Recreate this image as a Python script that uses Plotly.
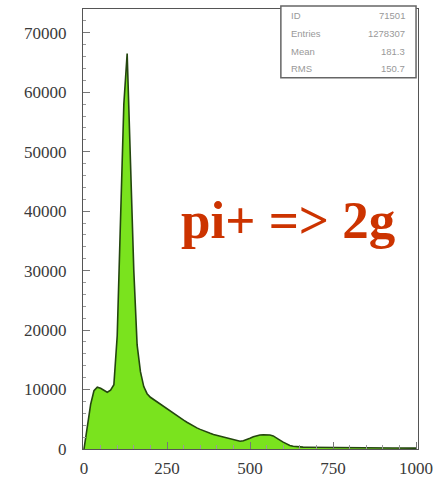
import plotly.graph_objects as go

# Histogram contents sampled every 10 units (bin centres 0, 10, ..., 1000)
bin_width = 10
counts = [
    0, 4000, 7500, 9800, 10400, 10200, 9800, 9550, 9900, 10800,
    19000, 37000, 58000, 66500, 50000, 30000, 17500, 13000, 10500, 9300,
    8700, 8300, 7900, 7500, 7150, 6800, 6400, 6000, 5600, 5200,
    4850, 4500, 4150, 3850, 3550, 3300, 3050, 2850, 2650, 2450,
    2300, 2150, 2000, 1850, 1700, 1500, 1350, 1300, 1400, 1550,
    1800, 2050, 2250, 2350, 2400, 2400, 2350, 2200, 1900, 1500,
    1150, 850, 600, 450, 380, 340, 320, 305, 295, 285,
    275, 265, 258, 250, 244, 238, 232, 226, 220, 215,
    210, 205, 200, 196, 192, 188, 184, 180, 177, 174,
    171, 168, 165, 162, 160, 158, 156, 154, 152, 150, 150,
]
x_ticks = [0, 250, 500, 750, 1000]
y_ticks = [0, 10000, 20000, 30000, 40000, 50000, 60000, 70000]
stat_names = ["ID", "Entries", "Mean", "RMS"]
stat_values = ["71501", "1278307", "181.3", "150.7"]
title_text = "pi+ => 2g"

centers = [i * bin_width for i in range(len(counts))]

W, H = 441, 489
L, R, T, B = 83, 16, 8, 40
pw, ph = W - L - R, H - T - B


def px_x(px):
    return (px - L) / pw


def px_y(py):
    return (H - B - py) / ph


fig = go.Figure()
fig.add_trace(go.Scatter(
    x=centers, y=counts, mode="lines", line_shape="linear",
    line=dict(color="#24460f", width=1.6),
    fill="tozeroy", fillcolor="#7ae31e",
    hoverinfo="skip", showlegend=False,
))

tick_font = dict(family="Liberation Serif, Times New Roman, serif", size=17, color="#3a3a3a")

fig.update_layout(
    width=W, height=H,
    margin=dict(l=L, r=R, t=T, b=B),
    paper_bgcolor="white", plot_bgcolor="white",
    xaxis=dict(
        range=[-3, 1006], tickvals=x_ticks, ticktext=[str(v) for v in x_ticks],
        ticks="inside", ticklen=7,
        tickcolor="#777", showgrid=False, zeroline=False,
        showline=True, linecolor="#555", linewidth=1, mirror=True,
        tickfont=tick_font, ticklabelstandoff=4,
        minor=dict(dtick=50, ticks="inside", ticklen=4, tickcolor="#999"),
    ),
    yaxis=dict(
        range=[0, 74000], tickvals=y_ticks, ticktext=[str(v) for v in y_ticks],
        ticks="inside", ticklen=7,
        tickcolor="#777", showgrid=False, zeroline=False,
        showline=True, linecolor="#555", linewidth=1, mirror=True,
        tickfont=tick_font, ticklabelstandoff=12,
        minor=dict(dtick=2000, ticks="inside", ticklen=3, tickcolor="#999"),
    ),
)

# Statistics box in the upper right corner
bx0, bx1, by0, by1 = 285, 423, 5, 77
fig.add_shape(type="rect", xref="paper", yref="paper",
              x0=px_x(bx0), x1=px_x(bx1), y0=px_y(by1), y1=px_y(by0),
              line=dict(color="#666", width=1.5), fillcolor="white", layer="above")
row_y = [15, 33, 51, 68]
stat_font = dict(family="Liberation Sans, Arial, sans-serif", size=9.5, color="#999")
for name, val, ry in zip(stat_names, stat_values, row_y):
    fig.add_annotation(x=px_x(bx0 + 8), y=px_y(ry), xref="paper", yref="paper",
                       text=name, showarrow=False, xanchor="left", yanchor="middle",
                       font=stat_font)
    fig.add_annotation(x=px_x(bx1 - 9), y=px_y(ry), xref="paper", yref="paper",
                       text=val, showarrow=False, xanchor="right", yanchor="middle",
                       font=stat_font)

fig.add_annotation(x=px_x(292), y=px_y(219), xref="paper", yref="paper",
                   text="<b>" + title_text + "</b>", showarrow=False,
                   xanchor="center", yanchor="middle",
                   font=dict(family="Liberation Serif, Times New Roman, serif", size=53, color="#cc3300"))

fig.write_html("out.html")
